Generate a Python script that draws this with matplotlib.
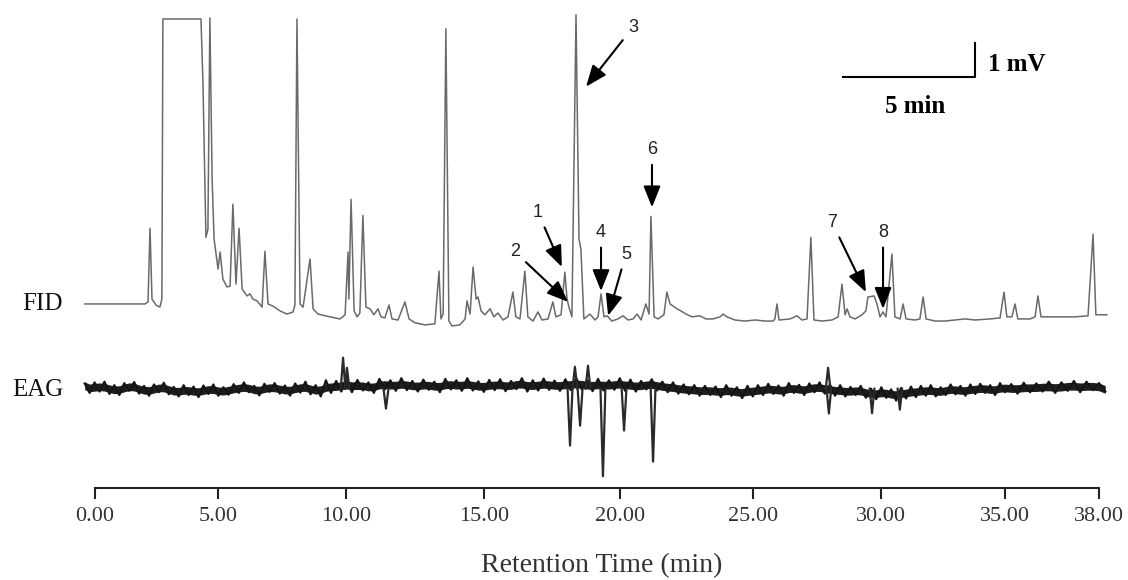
import numpy as np
import matplotlib
matplotlib.use("Agg")
import matplotlib.pyplot as plt

# FID trace: retention time (min) and signal (mV, 0 = FID baseline)
fid_time = [
    -0.39, 2.04, 2.16, 2.24, 2.32, 2.48, 2.64, 2.72, 2.76, 4.26,
    4.30, 4.38, 4.50, 4.58, 4.66, 4.75, 4.83, 4.99,
    5.07, 5.18, 5.34, 5.46, 5.57, 5.69, 5.81, 5.93, 6.12, 6.24, 6.35, 6.51, 6.71, 6.82,
    6.94, 7.13, 7.41, 7.68, 7.92, 7.99, 8.07, 8.19, 8.31, 8.58, 8.70, 8.89, 9.36, 9.75, 9.95,
    10.06, 10.09, 10.17, 10.28, 10.39, 10.49, 10.60, 10.71, 10.86, 11.00, 11.15, 11.26,
    11.40, 11.55, 11.66, 11.88, 12.13, 12.28, 12.50, 12.86, 13.22, 13.37, 13.44, 13.52,
    13.62, 13.73, 13.84, 14.13, 14.32, 14.39, 14.50, 14.61, 14.72, 14.79, 14.90,
    15.04, 15.23, 15.37, 15.52, 15.71, 15.89, 16.07, 16.18, 16.33, 16.51, 16.62, 16.81,
    16.99, 17.14, 17.36, 17.54, 17.65, 17.84, 17.98, 18.06, 18.13, 18.24, 18.39, 18.50,
    18.57, 18.68, 18.90, 19.09, 19.20, 19.31, 19.42, 19.53, 19.71, 19.93,
    20.12, 20.31, 20.50, 20.65, 20.80, 20.98, 21.10, 21.17, 21.29, 21.44, 21.66, 21.77,
    21.89, 22.00, 22.15, 22.30, 22.49, 22.71, 23.01, 23.24, 23.50, 23.77, 23.88, 24.03,
    24.33, 24.71,
    25.09, 25.47, 25.79, 25.86, 25.94, 26.02, 26.45, 26.72, 26.91, 27.11, 27.26, 27.38,
    27.69, 28.08, 28.32, 28.47, 28.59, 28.67, 28.78, 28.98, 29.25, 29.40, 29.48, 29.72,
    29.83, 29.95,
    30.07, 30.19, 30.43, 30.55, 30.76, 30.88, 31.00, 31.36, 31.56, 31.69, 31.81, 32.17,
    32.57, 32.98, 33.38, 33.79, 34.39, 34.80, 34.96,
    35.06, 35.22, 35.32, 35.41, 35.80, 35.96, 36.05, 36.15, 36.44, 36.76, 37.23, 37.65,
    37.81, 37.90, 38.25,
]
fid_mv = [
    0.00, 0.00, 0.06, 2.17, 0.14, -0.03, -0.09, 0.14, 8.17, 8.17,
    8.17, 6.34, 1.91, 2.14, 8.20, 3.57, 1.86, 1.00,
    1.49, 0.71, 0.49, 0.51, 2.86, 0.57, 2.17, 0.43, 0.23, 0.29, 0.14, 0.09, -0.09, 1.51,
    0.00, -0.06, -0.20, -0.29, -0.23, -0.03, 8.17, 0.00, -0.09, 1.29, -0.14, -0.29, -0.37, -0.43, -0.31,
    1.49, 0.14, 3.00, -0.20, -0.37, -0.26, 2.54, -0.09, -0.14, -0.31, -0.14, -0.37,
    -0.40, -0.03, -0.43, -0.46, 0.06, -0.43, -0.54, -0.60, -0.57, 0.94, -0.43, -0.29,
    7.89, -0.49, -0.63, -0.60, -0.43, 0.09, -0.29, 1.06, 0.14, 0.20, -0.20,
    -0.31, -0.14, -0.37, -0.26, -0.46, -0.37, 0.34, -0.37, -0.43, 0.94, -0.37, -0.49,
    -0.23, -0.46, -0.43, 0.06, -0.37, -0.31, 0.91, 0.14, -0.09, -0.37, 8.29, 1.86,
    1.57, -0.43, -0.29, -0.46, -0.37, 0.29, -0.37, -0.34, -0.49, -0.43,
    -0.34, -0.46, -0.43, -0.29, -0.46, 0.00, -0.29, 2.51, -0.37, -0.43, -0.31, 0.34,
    0.00, -0.06, -0.14, -0.20, -0.29, -0.37, -0.34, -0.43, -0.43, -0.37, -0.29, -0.37,
    -0.46, -0.49,
    -0.46, -0.49, -0.49, -0.43, 0.00, -0.46, -0.43, -0.34, -0.46, -0.43, 1.91, -0.46,
    -0.49, -0.46, -0.37, 0.57, -0.31, -0.14, -0.37, -0.43, -0.31, -0.20, 0.20, 0.23,
    0.00, -0.37,
    -0.23, -0.37, 1.43, -0.37, -0.43, 0.00, -0.43, -0.46, -0.43, 0.20, -0.43, -0.49,
    -0.49, -0.46, -0.43, -0.46, -0.43, -0.40, 0.34,
    -0.37, -0.37, 0.00, -0.43, -0.43, -0.37, 0.23, -0.37, -0.37, -0.37, -0.37, -0.34,
    2.00, -0.31, -0.31,
]

# EAG trace, read every 0.2 min from -0.4 to 38.2 min (mV around its own baseline)
eag_time = np.linspace(-0.4, 38.2, 194)
eag_mv = [
    0.15, -0.12, 0.18, -0.08, 0.20, -0.15, 0.10, -0.18, 0.16, -0.06,
    0.19, -0.14, 0.08, -0.20, 0.12, -0.10, 0.17, -0.16, 0.05, -0.22,
    0.10, -0.18, 0.06, -0.24, 0.09, -0.15, 0.12, -0.20, 0.04, -0.17,
    0.13, -0.12, 0.18, -0.10, 0.08, -0.19, 0.14, -0.09, 0.16, -0.14,
    0.09, -0.20, 0.15, -0.11, 0.20, -0.16, 0.10, -0.22, 0.24, -0.12,
    0.22, -0.08, 0.30, -0.10, 0.25, -0.05, 0.18, -0.12, 0.28, -0.02,
    0.24, -0.06, 0.30, -0.04, 0.22, -0.08, 0.26, -0.03, 0.20, -0.10,
    0.28, -0.02, 0.24, -0.06, 0.30, -0.05, 0.21, -0.09, 0.25, -0.04,
    0.27, -0.07, 0.22, -0.01, 0.30, -0.08, 0.24, -0.05, 0.29, -0.03,
    0.23, -0.06, 0.27, -0.04, 0.30, -0.02, 0.25, -0.07, 0.28, -0.05,
    0.24, -0.03, 0.30, -0.06, 0.26, -0.08, 0.22, -0.02, 0.27, -0.05,
    0.20, -0.10, 0.18, -0.14, 0.12, -0.16, 0.10, -0.20, 0.08, -0.18,
    0.06, -0.24, 0.10, -0.20, 0.04, -0.27, 0.08, -0.22, 0.10, -0.18,
    0.14, -0.15, 0.09, -0.20, 0.16, -0.12, 0.11, -0.18, 0.15, -0.10,
    0.18, -0.14, 0.12, -0.20, 0.10, -0.22, 0.05, -0.18, 0.08, -0.26,
    0.00, -0.30, 0.04, -0.26, -0.02, -0.34, 0.02, -0.28, 0.06, -0.24,
    0.08, -0.20, 0.10, -0.22, 0.04, -0.18, 0.12, -0.16, 0.08, -0.20,
    0.12, -0.15, 0.14, -0.12, 0.10, -0.18, 0.16, -0.10, 0.13, -0.14,
    0.17, -0.10, 0.15, -0.08, 0.20, -0.12, 0.18, -0.06, 0.22, -0.10,
    0.20, -0.04, 0.16, -0.08,
]

# sharp EAG deflections: time (min) and extreme value (mV)
eag_event_time = [9.87, 10.02, 11.44, 18.17, 18.35, 18.54, 18.83, 19.38, 20.16, 21.25,
                  27.93, 27.96, 29.64, 30.75]
eag_event_mv = [0.89, 0.60, -0.57, -1.63, 0.63, -1.06, 0.66, -2.51, -1.20, -2.09,
                0.60, -0.71, -0.70, -0.60]

# numbered EAD-active peaks: arrow tip on the FID trace and label position
peak_ids = ["1", "2", "3", "4", "5", "6", "7", "8"]
peak_time = [17.87, 18.10, 18.76, 19.31, 19.57, 21.21, 29.40, 30.07]
peak_mv = [1.06, 0.06, 6.23, 0.37, -0.34, 2.77, 0.34, -0.14]
label_time = [16.99, 16.15, 20.50, 19.31, 20.23, 21.21, 28.08, 30.07]
label_mv = [2.63, 1.49, 7.94, 2.06, 1.43, 4.43, 2.34, 2.06]

tick_values = [0, 5, 10, 15, 20, 25, 30, 35, 38]

# the printed time axis is not evenly spaced: position of each tick along the figure width
tick_pos = [94.6, 218.3, 346.4, 483.8, 619.8, 752.8, 881.3, 1005.0, 1099.0]
_t = np.array([-10.0] + tick_values + [50.0])
_p = np.array([94.6 - 10 * 24.74] + tick_pos + [1099.0 + 12 * 31.33])


def fwd(x):
    return np.interp(x, _t, _p)


def inv(p):
    return np.interp(p, _p, _t)


W, H = 1128, 580
eag_offset = -2.43
axis_level = -5.29

plt.rcParams["font.family"] = ["Liberation Serif", "DejaVu Serif"]

fig = plt.figure(figsize=(W / 100, H / 100), dpi=100)
ax = fig.add_axes([0, 0, 1, 1])
ax.set_xscale("function", functions=(fwd, inv))
ax.set_xlim(inv(0), inv(W))
ax.set_ylim(-277 / 35, 305 / 35)

ax.plot(fid_time, fid_mv, color="#6a6a6a", lw=1.1)

# EAG: dark core band around the local mean, noisy trace on top
eag = np.array(eag_mv)
padded = np.concatenate([eag[:1], eag, eag[-1:]])
local_mean = (padded[:-2] + 2 * padded[1:-1] + padded[2:]) / 4
ax.fill_between(eag_time, local_mean + eag_offset - 0.11, local_mean + eag_offset + 0.11,
                color="#1e1e1e", lw=0)
ax.plot(eag_time, eag + eag_offset, color="#151515", lw=1.6)
for t, v in zip(eag_event_time, eag_event_mv):
    ax.plot([t - 0.09, t, t + 0.09], [eag_offset, eag_offset + v, eag_offset],
            color="#2a2a2a", lw=1.6)

for pid, pt, pv, lt, lv in zip(peak_ids, peak_time, peak_mv, label_time, label_mv):
    ax.annotate(pid, xy=(pt, pv), xytext=(lt, lv), ha="center", va="center",
                fontsize=13, family="Liberation Sans", color="#222222",
                arrowprops=dict(arrowstyle="-|>,head_length=1.0,head_width=0.4",
                                color="black", lw=1.5, shrinkA=3, shrinkB=0))

# scale bar
ax.plot([28.51, 33.79, 33.79], [6.51, 6.51, 7.49], color="black", lw=1.5)
ax.text(34.31, 6.86, "1 mV", ha="left", va="center", fontsize=18, fontweight="bold")
ax.text(31.36, 5.66, "5 min", ha="center", va="center", fontsize=18, fontweight="bold")

ax.text(-1.28, 0.0, "FID", ha="right", va="center", fontsize=18, color="#111111")
ax.text(-1.24, -2.46, "EAG", ha="right", va="center", fontsize=18, color="#111111")

for s in ("left", "right", "top"):
    ax.spines[s].set_visible(False)
ax.spines["bottom"].set_position(("data", axis_level))
ax.spines["bottom"].set_bounds(0, 38)
ax.spines["bottom"].set_linewidth(1.5)
ax.spines["bottom"].set_color("#222222")
ax.set_yticks([])
ax.set_xticks(tick_values)
ax.set_xticklabels([f"{v:.2f}" for v in tick_values])
ax.tick_params(axis="x", direction="out", length=8, width=1.5, pad=5,
               labelsize=16, color="#222222", labelcolor="#333333")
ax.set_xlabel("Retention Time (min)", fontsize=20, color="#333333")
ax.xaxis.set_label_coords(602 / W, 1 - 566 / H)
ax.xaxis.label.set_va("center")

fig.savefig("out.png", dpi=100)
